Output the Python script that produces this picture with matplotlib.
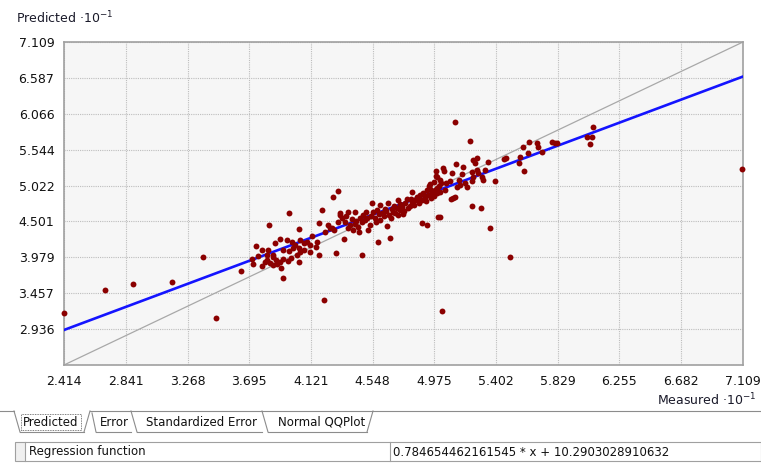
import numpy as np
import matplotlib.pyplot as plt
from matplotlib.lines import Line2D
from matplotlib.patches import Rectangle

plt.rcParams['font.family'] = ['DejaVu Sans']

# cross validation points (display units, x10^-1)
measured = [2.414, 2.698, 2.891, 3.161, 3.375, 3.465, 3.638, 3.721, 3.783, 3.928,
            4.212, 5.028, 5.498, 5.360, 5.118, 7.100, 4.309, 4.274, 4.198, 3.970,
            3.832, 4.039, 4.177, 4.253, 4.323, 3.742, 3.873, 3.908, 3.956, 3.991,
            3.998, 3.970, 3.928, 4.074, 4.094, 4.115, 4.164, 4.157, 4.115, 4.074,
            4.039, 4.025, 3.984, 3.963, 3.928, 3.908, 3.880, 3.859, 3.818, 3.839,
            3.859, 3.887, 3.714, 3.756, 3.818, 3.859, 3.915, 4.039, 4.177, 4.295,
            4.046, 3.804, 4.986, 4.986, 4.820, 4.938, 4.924, 4.378, 4.426, 4.544,
            4.599, 4.654, 4.724, 4.786, 4.855, 4.897, 4.945, 4.648, 4.724, 4.675,
            4.890, 4.924, 4.350, 4.585, 4.668, 4.475, 5.000, 4.323, 4.336, 4.357,
            4.392, 4.412, 4.447, 4.475, 4.509, 4.516, 4.530, 4.482, 4.551, 4.578,
            4.613, 4.634, 4.661, 4.689, 4.717, 4.751, 4.772, 4.793, 4.820, 4.841,
            4.862, 4.890, 4.910, 4.931, 4.959, 4.980, 4.993, 4.281, 4.267, 5.222,
            5.629, 5.685, 5.692, 5.588, 5.789, 5.823, 5.567, 5.623, 5.719, 5.595,
            5.457, 5.470, 5.346, 5.242, 5.256, 5.270, 5.125, 5.173, 5.035, 5.042,
            4.993, 5.097, 5.166, 5.235, 5.277, 5.304, 5.311, 5.394, 5.235, 5.187,
            5.152, 5.132, 5.083, 5.056, 5.014, 5.049, 5.014, 4.993, 4.966, 5.104,
            5.090, 5.118, 5.235, 5.298, 5.014, 5.201, 5.145, 5.242, 6.072, 6.031,
            6.065, 6.051, 5.809, 5.560, 5.270, 5.325, 4.309, 4.364, 4.406, 4.433,
            4.461, 4.495, 4.537, 4.565, 4.592, 4.627, 4.682, 4.703, 4.737, 4.765,
            4.807, 4.834, 4.869, 4.917, 4.952, 4.973, 5.007, 5.021, 4.737, 4.696,
            4.641, 4.572, 4.454, 4.378, 4.876, 4.814, 4.758, 4.599, 4.502, 4.426,
            4.945, 4.973, 4.219, 4.240, 4.129, 4.046, 4.011, 3.783, 3.825]
predicted = [3.170, 3.504, 3.591, 3.620, 3.984, 3.097, 3.780, 3.882, 3.853, 3.679,
             3.359, 3.199, 3.984, 4.405, 5.946, 5.263, 4.943, 4.856, 4.667, 4.623,
             4.449, 4.391, 4.478, 4.405, 4.594, 4.144, 4.187, 4.246, 4.231, 4.202,
             4.115, 4.071, 4.086, 4.187, 4.202, 4.158, 4.202, 4.129, 4.057, 4.086,
             4.115, 4.013, 3.969, 3.926, 3.955, 3.911, 3.940, 3.984, 3.940, 3.897,
             3.868, 3.882, 3.955, 3.998, 4.013, 4.013, 3.824, 3.911, 4.013, 4.042,
             4.057, 3.911, 5.234, 5.161, 4.929, 5.016, 4.958, 4.638, 4.638, 4.769,
             4.740, 4.769, 4.812, 4.827, 4.856, 4.914, 4.972, 4.435, 4.594, 4.551,
             4.478, 4.449, 4.246, 4.202, 4.260, 4.013, 4.565, 4.623, 4.551, 4.493,
             4.449, 4.376, 4.420, 4.493, 4.551, 4.376, 4.449, 4.594, 4.638, 4.667,
             4.623, 4.682, 4.594, 4.638, 4.696, 4.711, 4.769, 4.696, 4.783, 4.812,
             4.842, 4.812, 4.856, 4.885, 4.929, 4.958, 4.987, 4.376, 4.405, 5.670,
             5.656, 5.641, 5.583, 5.583, 5.656, 5.641, 5.437, 5.496, 5.510, 5.234,
             5.408, 5.423, 5.365, 5.394, 5.350, 5.423, 5.336, 5.292, 5.278, 5.234,
             5.147, 5.205, 5.190, 5.219, 5.205, 5.147, 5.103, 5.089, 5.089, 5.060,
             5.031, 5.001, 5.089, 5.060, 5.103, 4.958, 4.929, 4.914, 4.885, 4.842,
             4.827, 4.856, 4.725, 4.696, 4.565, 5.001, 5.103, 5.147, 5.874, 5.728,
             5.728, 5.626, 5.641, 5.350, 5.249, 5.249, 4.493, 4.580, 4.536, 4.507,
             4.551, 4.522, 4.580, 4.551, 4.609, 4.580, 4.682, 4.623, 4.667, 4.653,
             4.725, 4.740, 4.769, 4.798, 4.842, 4.871, 5.016, 5.060, 4.754, 4.725,
             4.653, 4.493, 4.347, 4.405, 4.885, 4.827, 4.609, 4.522, 4.638, 4.464,
             5.045, 5.074, 4.347, 4.449, 4.289, 4.231, 4.158, 4.086, 4.086]

x_ticks = [2.414, 2.841, 3.268, 3.695, 4.121, 4.548, 4.975, 5.402, 5.829, 6.255, 6.682, 7.109]
y_ticks = [2.414, 2.936, 3.457, 3.979, 4.501, 5.022, 5.544, 6.066, 6.587, 7.109]

# regression in original units: y = a * x + b
slope = 0.784654462161545
intercept = 10.2903028910632

W, H = 761, 463
fig = plt.figure(figsize=(W / 100, H / 100), dpi=100)
fig.patch.set_facecolor('white')

def fp(x, y):
    return x / W, 1 - y / H

ax = fig.add_axes([64 / W, 1 - 365 / H, (743 - 64) / W, (365 - 42) / H])
ax.set_facecolor('#f6f6f6')
ax.set_xlim(x_ticks[0], x_ticks[-1])
ax.set_ylim(y_ticks[0], y_ticks[-1])
ax.set_xticks(x_ticks)
ax.set_yticks(y_ticks)
ax.set_xticklabels(['%.3f' % v for v in x_ticks])
ax.set_yticklabels([''] + ['%.3f' % v for v in y_ticks[1:]])
ax.tick_params(length=0, labelsize=9, labelcolor='#111111', pad=7)
ax.grid(True, color='#bdbdbd', linestyle=(0, (1, 1)), linewidth=0.8)
ax.set_axisbelow(True)
for s in ax.spines.values():
    s.set_color('#a0a0a0')
    s.set_linewidth(1.2)

# 1:1 reference and regression line
lims = np.array([x_ticks[0], x_ticks[-1]])
ax.plot(lims, lims, color='#a8a8a8', linewidth=0.9, zorder=2)
ax.plot(lims, slope * lims + intercept / 10, color='#1414ff', linewidth=1.9, zorder=3)
ax.scatter(measured, predicted, s=18, color='#8b0000', linewidths=0, zorder=4, clip_on=False)

fig.text(*fp(16, 18), 'Predicted ·10$^{-1}$', fontsize=9, color='#1a1a2a', va='center')
fig.text(*fp(756, 400), 'Measured ·10$^{-1}$', fontsize=9, color='#1a1a2a', va='center', ha='right')

# tab strip
tab_color = '#8c8c8c'
tab_lines = [((0, 411), (14, 411)), ((14, 411), (20, 432)), ((20, 432), (84, 432)),
             ((84, 432), (90, 411)), ((90, 411), (761, 411)),
             ((131, 411), (137, 432)), ((262, 411), (268, 432)), ((367, 432), (373, 411)),
             ((96, 432), (131, 432)), ((137, 432), (262, 432)), ((268, 432), (367, 432))]
for a, b in tab_lines:
    fig.add_artist(Line2D([a[0] / W, b[0] / W], [1 - a[1] / H, 1 - b[1] / H],
                          color=tab_color, linewidth=0.8))
fig.add_artist(Line2D([92 / W, 96 / W], [1 - 413 / H, 1 - 432 / H], color=tab_color, linewidth=0.8))
fig.add_artist(Rectangle(fp(21, 430), 60 / W, 16 / H, fill=False, edgecolor='#555555',
                         linewidth=0.6, linestyle=(0, (1, 1))))
tab_font = dict(fontsize=8.5, color='#111111', va='center')
fig.text(*fp(23, 422), 'Predicted', **tab_font)
fig.text(*fp(100, 422), 'Error', **tab_font)
fig.text(*fp(146, 422), 'Standardized Error', **tab_font)
fig.text(*fp(278, 422), 'Normal QQPlot', **tab_font)

# property row
fig.add_artist(Rectangle(fp(15, 461), 10 / W, 19 / H, facecolor='#f0f0f0', edgecolor='none'))
fig.add_artist(Rectangle(fp(15, 461), 746 / W, 19 / H, fill=False, edgecolor='#a0a0a0', linewidth=0.8))
for xv in (25, 390):
    fig.add_artist(Line2D([xv / W, xv / W], [1 - 442 / H, 1 - 461 / H], color='#a0a0a0', linewidth=0.8))
fig.text(*fp(29, 452), 'Regression function', **tab_font)
fig.text(*fp(393, 452), '%s * x + %s' % (repr(slope), repr(intercept)), **tab_font)

fig.savefig('out.png', dpi=100)
